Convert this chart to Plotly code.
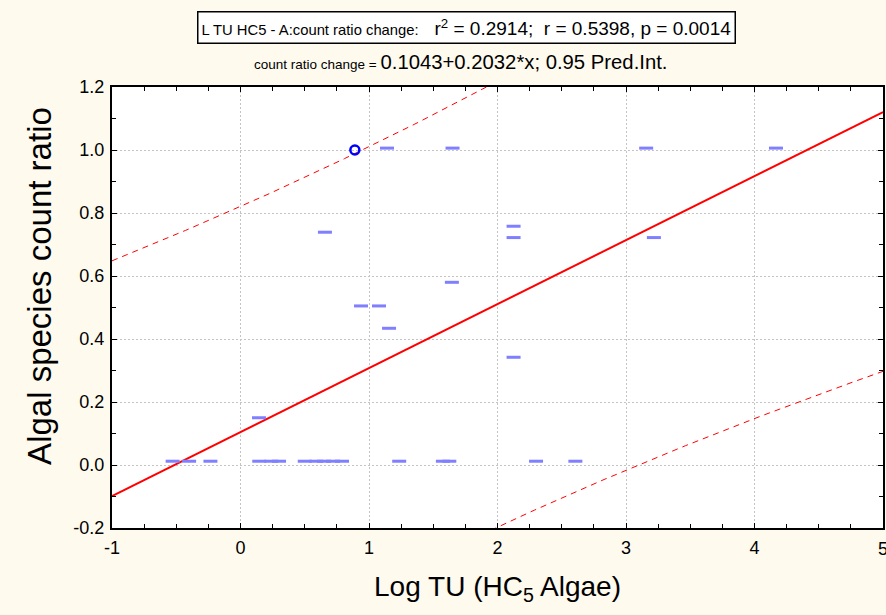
import numpy as np
import plotly.graph_objects as go

# Data
log_tu = [-0.528, -0.40, -0.234, 0.146, 0.24, 0.30, 0.50, 0.59, 0.65, 0.72, 0.79,
          1.235, 1.575, 1.625, 2.30, 2.606,
          0.144, 0.657, 0.938, 1.078, 1.156, 1.645, 2.125, 2.125, 2.125, 3.217,
          1.14, 1.65, 3.157, 4.167]
count_ratio = [0.012, 0.012, 0.012, 0.012, 0.012, 0.012, 0.012, 0.012, 0.012, 0.012, 0.012,
               0.012, 0.012, 0.012, 0.012, 0.012,
               0.150, 0.739, 0.505, 0.505, 0.434, 0.580, 0.758, 0.722, 0.342, 0.722,
               1.006, 1.006, 1.006, 1.006]
highlight_x = [0.89]
highlight_y = [1.0]

intercept = 0.1043
slope = 0.2032
t_crit = 2.045  # t(0.975, n-2)

x_tick_vals = [-1, 0, 1, 2, 3, 4, 5]
x_tick_text = ["-1", "0", "1", "2", "3", "4", "5"]
y_tick_vals = [-0.2, 0.0, 0.2, 0.4, 0.6, 0.8, 1.0, 1.2]
y_tick_text = ["-0.2", "0.0", "0.2", "0.4", "0.6", "0.8", "1.0", "1.2"]

# Prediction interval computed from the data
xa = np.array(log_tu + highlight_x)
ya = np.array(count_ratio + highlight_y)
n = len(xa)
xbar = xa.mean()
sxx = ((xa - xbar) ** 2).sum()
resid = ya - (intercept + slope * xa)
s = np.sqrt((resid ** 2).sum() / (n - 2))
xs = np.linspace(-1, 5, 200)
yhat = intercept + slope * xs
hw = t_crit * s * np.sqrt(1 + 1 / n + (xs - xbar) ** 2 / sxx)

fig = go.Figure()
fig.add_trace(go.Scatter(x=xs, y=yhat + hw, mode="lines",
                         line=dict(color="#FF0000", width=1, dash="6px,5px"),
                         showlegend=False, hoverinfo="skip"))
fig.add_trace(go.Scatter(x=xs, y=yhat - hw, mode="lines",
                         line=dict(color="#FF0000", width=1, dash="6px,5px"),
                         showlegend=False, hoverinfo="skip"))
fig.add_trace(go.Scatter(x=[-1, 5], y=[intercept + slope * -1, intercept + slope * 5],
                         mode="lines", line=dict(color="#FF0000", width=2),
                         showlegend=False))
fig.add_trace(go.Scatter(x=log_tu, y=count_ratio, mode="markers",
                         marker=dict(symbol="line-ew", size=10, color="#7F7FFF",
                                     line=dict(color="#7F7FFF", width=3)),
                         showlegend=False))
fig.add_trace(go.Scatter(x=highlight_x, y=highlight_y, mode="markers",
                         marker=dict(symbol="circle-open", size=9, color="#0000FF",
                                     line=dict(color="#0000FF", width=2.5)),
                         showlegend=False))

axis_common = dict(showline=True, linecolor="black", linewidth=2, mirror="ticks",
                   ticks="inside", ticklen=5, tickwidth=1, tickcolor="black",
                   showgrid=True, gridcolor="#C4C4C4", griddash="2px,2px", gridwidth=1,
                   zeroline=False, automargin=False)

fig.update_xaxes(range=[-1, 5], tickvals=x_tick_vals, ticktext=x_tick_text,
                 tickfont=dict(family="Liberation Sans", size=18, color="black"),
                 ticklabelstandoff=2,
                 title=dict(text="Log TU (HC<sub>5</sub> Algae)",
                            font=dict(family="Liberation Sans", size=28, color="black"),
                            standoff=20),
                 minor=dict(dtick=0.25, ticks="inside", ticklen=4, tickcolor="black", showgrid=False),
                 **axis_common)
fig.update_yaxes(range=[-0.2, 1.2], tickvals=y_tick_vals, ticktext=y_tick_text,
                 tickfont=dict(family="Liberation Sans", size=18, color="black"),
                 ticklabelstandoff=2,
                 minor=dict(dtick=0.1, ticks="inside", ticklen=4, tickcolor="black", showgrid=False),
                 **axis_common)

# last x tick label sits on the page edge; draw it explicitly so it is not dropped
fig.add_annotation(xref="x", yref="paper", x=x_tick_vals[-1], y=0, yshift=-9,
                   xanchor="center", yanchor="top", text=x_tick_text[-1], showarrow=False,
                   font=dict(family="Liberation Sans", size=18, color="black"))

# y-axis title
fig.add_annotation(xref="paper", yref="paper", x=-0.0934, y=0.549, xanchor="center", yanchor="middle",
                   textangle=-90, text="Algal species count ratio", showarrow=False,
                   font=dict(family="Liberation Sans", size=33, color="black"))

fig.add_annotation(xref="paper", yref="paper", x=0.4604, y=1.135, xanchor="center", yanchor="middle",
                   text="<span style='font-size:14.8px'>L TU HC5 - A:count ratio change:</span>"
                        "   r<sup>2</sup> = 0.2914;  r = 0.5398, p = 0.0014",
                   font=dict(family="Liberation Sans", size=19, color="black"),
                   showarrow=False, bordercolor="black", borderwidth=1.5, borderpad=3,
                   bgcolor="white")
fig.add_annotation(xref="paper", yref="paper", x=0.452, y=1.0567, xanchor="center", yanchor="middle",
                   text="<span style='font-size:13.5px'>count ratio change = </span>"
                        "0.1043+0.2032*x; 0.95 Pred.Int.",
                   font=dict(family="Liberation Sans", size=20.3, color="black"),
                   showarrow=False)

fig.update_layout(width=886, height=615, paper_bgcolor="#FEFAEE", plot_bgcolor="white",
                  margin=dict(l=112, r=3, t=87, b=87), showlegend=False)

fig.write_html("out.html",
               config={"displayModeBar": False},
               post_script="document.body.style.margin='0';"
                           "document.body.style.background='#FEFAEE';"
                           "document.body.style.overflow='hidden';")
